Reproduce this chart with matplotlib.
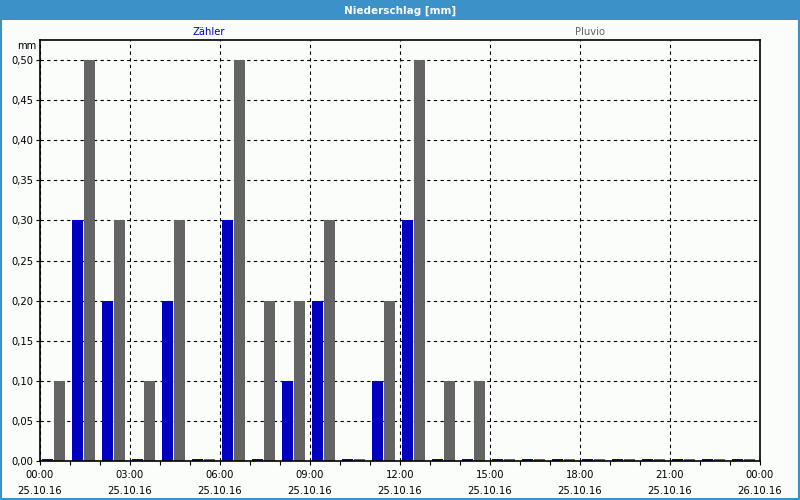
import numpy as np
import matplotlib
matplotlib.use('Agg')
from matplotlib import pyplot as plt
from matplotlib.patches import Rectangle

# hourly precipitation, 25.10.16 00:00 .. 23:00
hours = list(range(24))
zaehler = [0.00, 0.30, 0.20, 0.00, 0.20, 0.00, 0.30, 0.00, 0.10, 0.20, 0.00, 0.10,
           0.30, 0.00, 0.00, 0.00, 0.00, 0.00, 0.00, 0.00, 0.00, 0.00, 0.00, 0.00]
pluvio = [0.10, 0.50, 0.30, 0.10, 0.30, 0.00, 0.50, 0.20, 0.20, 0.30, 0.00, 0.20,
          0.50, 0.10, 0.10, 0.00, 0.00, 0.00, 0.00, 0.00, 0.00, 0.00, 0.00, 0.00]
tick_hours = [0, 3, 6, 9, 12, 15, 18, 21, 24]
tick_labels = ['00:00\n25.10.16', '03:00\n25.10.16', '06:00\n25.10.16',
               '09:00\n25.10.16', '12:00\n25.10.16', '15:00\n25.10.16',
               '18:00\n25.10.16', '21:00\n25.10.16', '00:00\n26.10.16']
y_ticks = [0.00, 0.05, 0.10, 0.15, 0.20, 0.25, 0.30, 0.35, 0.40, 0.45, 0.50]

bg = '#fbfdfb'
frame_blue = '#3c91c8'
blue = '#0000c0'
grey = '#646464'

fig = plt.figure(figsize=(8, 5), dpi=100, facecolor=bg)

# title bar and blue border
fig.patches.append(Rectangle((0, 0.96), 1, 0.04, transform=fig.transFigure,
                             facecolor=frame_blue, edgecolor='none', zorder=0))
fig.patches.append(Rectangle((0.0012, 0.002), 0.9976, 0.996, transform=fig.transFigure,
                             facecolor='none', edgecolor=frame_blue, linewidth=1.5, zorder=0))
fig.text(0.5, 0.979, 'Niederschlag [mm]', color='white', fontsize=7.5,
         fontweight='bold', ha='center', va='center')

ax = fig.add_axes([0.05, 0.078, 0.9, 0.842])
ax.set_facecolor(bg)

h = np.array(hours)
z = np.array(zaehler)
p = np.array(pluvio)
w = 0.36
ax.bar(h + 0.25, np.where(z > 0, z, 0.0025), width=w, color=blue, zorder=3)
ax.bar(h + 0.65, np.where(p > 0, p, 0.0025), width=w, color=grey, zorder=3)

ax.set_xlim(0, 24)
ax.set_ylim(0, 0.525)
ax.set_xticks(tick_hours)
ax.set_xticklabels(tick_labels, fontsize=7.2, linespacing=1.75)
ax.set_xticks(hours, minor=True)
ax.set_yticks(y_ticks)
ax.set_yticklabels([('%.2f' % v).replace('.', ',') for v in y_ticks], fontsize=7.2)
ax.tick_params(axis='both', which='both', direction='out', length=3, width=0.8, pad=2)
ax.tick_params(axis='x', which='major', pad=3.5)

ax.grid(True, which='major', color='black', linestyle=(0, (3, 3)), linewidth=0.8, zorder=1)
ax.set_axisbelow(True)
for s in ax.spines.values():
    s.set_linewidth(1.2)
    s.set_zorder(4)

fig.text(0.045, 0.908, 'mm', fontsize=7.2, ha='right', va='center')
fig.text(0.261, 0.936, 'Zähler', fontsize=7.2, color=blue, ha='center', va='center')
fig.text(0.738, 0.936, 'Pluvio', fontsize=7.2, color=grey, ha='center', va='center')

fig.savefig('out.png', dpi=100, facecolor=bg)
